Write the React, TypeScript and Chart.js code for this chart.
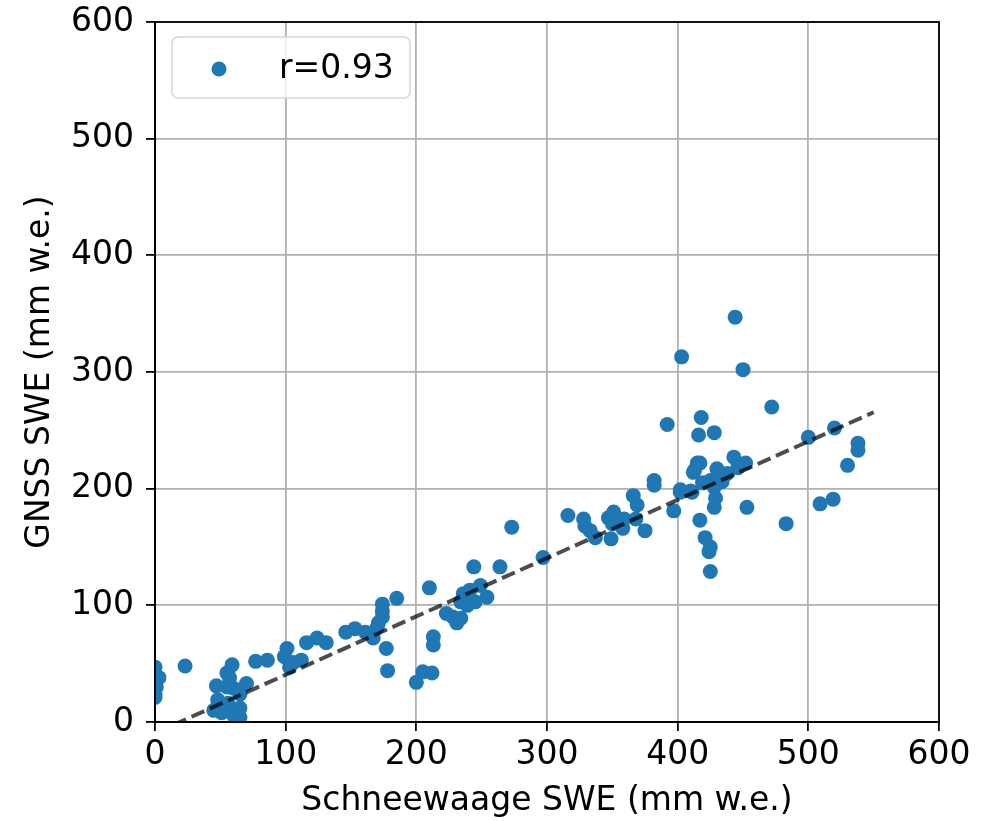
import React, { useEffect, useRef } from "react";
import { Chart, registerables } from "chart.js";

Chart.register(...registerables);

const schneewaageX: number[] = [
  0, 3, 1, 0, 0, 23,
  59, 55, 47, 55, 70, 65, 48, 56, 65, 51, 60, 65, 45, 60, 57,
  77, 86,
  101, 99, 106, 112, 103, 116, 124, 131, 146, 153, 161, 167, 170, 174, 174, 174, 171, 185, 177, 178,
  200, 205, 212, 213, 213, 210, 223, 231, 234, 228, 236, 241, 244, 249, 254, 239, 234, 245, 264,
  273, 297,
  316, 328, 329, 333, 337, 347, 351, 350, 349, 359, 358, 366, 369, 368, 375, 382, 382, 397, 402, 411, 413, 415,
  444, 403, 450, 472, 392, 418, 416, 428, 500, 520, 538, 538, 530, 417, 412, 430, 443, 452, 446, 438, 434, 425,
  419, 402, 410, 428, 429, 428, 453, 417, 483, 421, 425, 424, 425, 509, 519,
];
const gnssY: number[] = [
  47, 38, 30, 24, 21, 48,
  49, 42, 31, 30, 33, 24, 19, 16, 12, 8, 6, 4, 10, 29, 38,
  52, 53,
  63, 56, 51, 53, 47, 68, 72, 68, 77, 80, 77, 72, 81, 90, 101, 95, 85, 106, 63, 44,
  34, 43, 42, 73, 66, 115, 93, 85, 89, 90, 110, 113, 133, 117, 107, 100, 103, 103, 133,
  167, 141,
  177, 174, 168, 164, 158, 175, 180, 170, 157, 174, 166, 194, 186, 174, 164, 207, 203, 181, 199, 197, 216, 222,
  347, 313, 302, 270, 255, 261, 246, 248, 244, 252, 239, 233, 220, 222, 214, 217, 227, 222, 218, 213, 206, 207,
  205, 197, 198, 201, 192, 184, 184, 173, 170, 158, 150, 146, 129, 187, 191,
];
const fitX: number[] = [0, 550];
const fitY: number[] = [-9.5, 265.5];
const axisTicks: number[] = [0, 100, 200, 300, 400, 500, 600];
const legendLabel = "r=0.93";

const FONT = "'DejaVu Sans', sans-serif";
const FS = 33;

export default function App() {
  const ref = useRef<HTMLCanvasElement | null>(null);

  useEffect(() => {
    if (!ref.current) return;
    const frame = {
      id: "frame",
      afterDraw(chart: any) {
        const { ctx, chartArea: a } = chart;
        ctx.save();
        ctx.strokeStyle = "#000";
        ctx.lineWidth = 1.8;
        ctx.strokeRect(a.left, a.top, a.right - a.left, a.bottom - a.top);
        // legend
        const lx = 172, ly = 37, lw = 238, lh = 61, r = 6;
        ctx.beginPath();
        ctx.moveTo(lx + r, ly);
        ctx.arcTo(lx + lw, ly, lx + lw, ly + lh, r);
        ctx.arcTo(lx + lw, ly + lh, lx, ly + lh, r);
        ctx.arcTo(lx, ly + lh, lx, ly, r);
        ctx.arcTo(lx, ly, lx + lw, ly, r);
        ctx.closePath();
        ctx.fillStyle = "rgba(255,255,255,0.8)";
        ctx.fill();
        ctx.strokeStyle = "#d6d6d6";
        ctx.lineWidth = 1.5;
        ctx.stroke();
        ctx.beginPath();
        ctx.arc(219, 69, 7.5, 0, Math.PI * 2);
        ctx.fillStyle = "#1f77b4";
        ctx.fill();
        ctx.fillStyle = "#000";
        ctx.font = `${FS}px ${FONT}`;
        ctx.textBaseline = "middle";
        ctx.textAlign = "left";
        ctx.fillText(legendLabel, 279, 69);
        ctx.restore();
      },
    };
    const chart = new Chart(ref.current, {
      type: "scatter",
      data: {
        datasets: [
          {
            type: "line",
            data: fitX.map((x, i) => ({ x, y: fitY[i] })),
            borderColor: "rgba(0,0,0,0.7)",
            borderWidth: 4,
            borderDash: [14, 6],
            pointRadius: 0,
            fill: false,
            order: 0,
          } as any,
          {
            data: schneewaageX.map((x, i) => ({ x, y: gnssY[i] })),
            backgroundColor: "#1f77b4",
            borderWidth: 0,
            pointRadius: 7.5,
            pointHoverRadius: 7.5,
            order: 1,
          },
        ],
      },
      options: {
        animation: false,
        responsive: false,
        devicePixelRatio: 1,
        layout: { padding: { left: 0, right: 59, top: 22, bottom: 0 } },
        plugins: { legend: { display: false }, tooltip: { enabled: false } },
        scales: {
          x: {
            type: "linear",
            min: 0,
            max: 600,
            afterBuildTicks: (s: any) => {
              s.ticks = axisTicks.map((v) => ({ value: v }));
            },
            afterFit: (s: any) => {
              s.height = 99;
              s.paddingLeft = 0;
              s.paddingRight = 0;
            },
            grid: {
              color: "#b0b0b0",
              lineWidth: 1.8,
              tickColor: "#000",
              tickLength: 9,
              tickWidth: 1.8,
            } as any,
            border: { display: true, color: "#000", width: 1.8 },
            ticks: { color: "#000", font: { family: FONT, size: FS }, padding: 5, maxRotation: 0 },
            title: {
              display: true,
              text: "Schneewaage SWE (mm w.e.)",
              color: "#000",
              font: { family: FONT, size: FS },
              padding: { top: 0, bottom: 0 },
            },
          },
          y: {
            type: "linear",
            min: 0,
            max: 600,
            afterBuildTicks: (s: any) => {
              s.ticks = axisTicks.map((v) => ({ value: v }));
            },
            afterFit: (s: any) => {
              s.width = 155;
              s.paddingTop = 0;
              s.paddingBottom = 0;
            },
            grid: {
              color: "#b0b0b0",
              lineWidth: 1.8,
              tickColor: "#000",
              tickLength: 9,
              tickWidth: 1.8,
            } as any,
            border: { display: true, color: "#000", width: 1.8 },
            ticks: { color: "#000", font: { family: FONT, size: FS }, padding: 12 },
            title: {
              display: true,
              text: "GNSS SWE (mm w.e.)",
              color: "#000",
              font: { family: FONT, size: FS },
              padding: { top: 21, bottom: 0 },
            },
          },
        },
      },
      plugins: [frame],
    });
    return () => chart.destroy();
  }, []);

  return (
    <div style={{ position: "fixed", left: 0, top: 0, width: 998, height: 821, background: "#fff" }}>
      <canvas ref={ref} width={998} height={821} style={{ width: 998, height: 821, display: "block" }} />
    </div>
  );
}
